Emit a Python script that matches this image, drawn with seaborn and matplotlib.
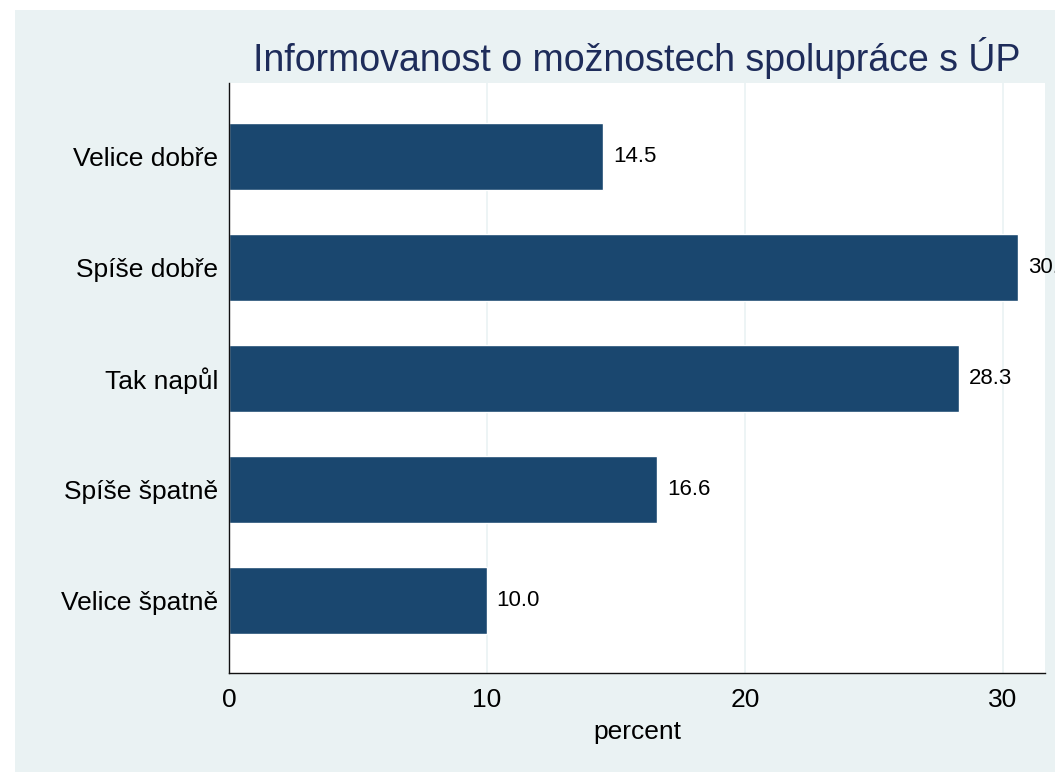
import matplotlib
matplotlib.use("Agg")
import matplotlib.pyplot as plt
import seaborn as sns
import pandas as pd
from matplotlib.patches import Rectangle

categories = ["Velice dobře", "Spíše dobře", "Tak napůl", "Spíše špatně", "Velice špatně"]
percent = [14.5, 30.6, 28.3, 16.6, 10.0]
xticks = [0, 10, 20, 30]
title = "Informovanost o možnostech spolupráce s ÚP"

bar_color = "#1a476f"
bg_color = "#eaf2f3"
title_color = "#1e2c5a"

sns.set_style("white")
plt.rcParams['font.family'] = ['Liberation Sans', 'DejaVu Sans']
plt.rcParams['text.color'] = 'black'
plt.rcParams['xtick.color'] = 'black'
plt.rcParams['ytick.color'] = 'black'
plt.rcParams['axes.labelcolor'] = 'black'

df = pd.DataFrame({"cat": categories, "percent": percent})

fig = plt.figure(figsize=(10.55, 7.72), dpi=100, facecolor="white")
fig.patches.append(Rectangle((15 / 1055, 0), 1 - 15 / 1055, 762 / 772,
                             transform=fig.transFigure, facecolor=bg_color,
                             edgecolor="none", zorder=-5))
ax = fig.add_axes([229 / 1055, 99 / 772, 816 / 1055, 590 / 772])
ax.set_zorder(1)
ax.set_facecolor("white")

sns.barplot(data=df, x="percent", y="cat", orient="h", color=bar_color,
            saturation=1, width=0.6, ax=ax)

ax.set_xlim(0, 816 / 25.8)
ax.set_ylim(4.65, -0.66)
ax.set_xticks(xticks)
ax.grid(axis="x", color=bg_color, linewidth=1.2)
ax.set_axisbelow(True)

for s in ["top", "right"]:
    ax.spines[s].set_visible(False)
for s in ["left", "bottom"]:
    ax.spines[s].set_color("#111111")
    ax.spines[s].set_linewidth(1.0)

ax.tick_params(axis="x", length=8.5, width=1, color="#111111", labelsize=19, pad=2)
ax.tick_params(axis="y", length=0, labelsize=19, pad=8)
ax.set_ylabel("")
ax.set_xlabel("percent", fontsize=19, labelpad=6)

ax.bar_label(ax.containers[0], fmt="%.1f", padding=7, fontsize=16)

fig.text(637 / 1055, (772 - 58) / 772, title, ha="center", va="center",
         fontsize=27, color=title_color)

fig.savefig("out.png", dpi=100, facecolor="white")
